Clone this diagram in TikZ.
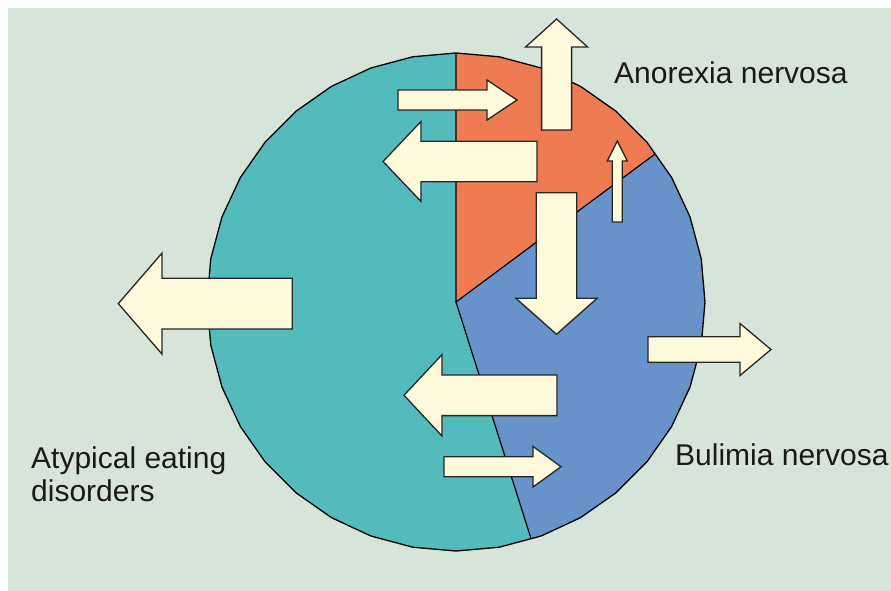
\documentclass[tikz,border=0pt]{standalone}
\usepackage{fontspec}
\setmainfont{Liberation Sans}
\definecolor{bgc}{HTML}{D6E4D9}
\definecolor{tealc}{HTML}{53BBBB}
\definecolor{orangec}{HTML}{EE7B52}
\definecolor{bluec}{HTML}{6892CA}
\definecolor{creamc}{HTML}{FFFADC}
\definecolor{textc}{HTML}{1A1A1A}
\newcommand{\hblock}[6]{% tail, base, tip, centre y, shaft half, head half
  \draw[blockarrow] (#1,{#4-#5}) -- (#2,{#4-#5}) -- (#2,{#4-#6}) -- (#3,#4) -- (#2,{#4+#6}) -- (#2,{#4+#5}) -- (#1,{#4+#5}) -- cycle;}
\newcommand{\vblock}[6]{% tail, base, tip, centre x, shaft half, head half
  \draw[blockarrow] ({#4-#5},#1) -- ({#4-#5},#2) -- ({#4-#6},#2) -- (#4,#3) -- ({#4+#6},#2) -- ({#4+#5},#2) -- ({#4+#5},#1) -- cycle;}
\tikzset{
  blockarrow/.style={draw=black!85, fill=creamc, line width=1.3pt, line join=miter},
  label/.style={anchor=base west, inner sep=0pt, text=textc, font=\fontsize{30}{33}\selectfont},
}
\begin{document}
\begin{tikzpicture}[x=1pt,y=-1pt]
\useasboundingbox (0,0) rectangle (891,591);
\fill[white] (0,0) rectangle (891,591);
\fill[bgc] (8,8) rectangle (891,591);
% pie
\fill[tealc] plot[samples at={90,100,...,440}, variable=\a] ({456+249*cos(\a)},{302-249*sin(\a)}) -- cycle;
\begin{scope}
  \clip plot[samples at={90,100,...,440}, variable=\a] ({456+249*cos(\a)},{302-249*sin(\a)}) -- cycle;
  \coordinate (c) at (456,302);
  \fill[orangec] (c) -- (456,-300) -- (1053,-142) -- cycle;
  \fill[bluec] (c) -- (1053,-142) -- (1400,400) -- (683,1018) -- cycle;
  \draw[line width=1.2pt, line join=miter] (456,-10) -- (c) -- (1053,-142);
  \draw[line width=1.2pt] (c) -- (683,1018);
\end{scope}
\draw[line width=1.3pt, line join=round] plot[samples at={90,100,...,440}, variable=\a] ({456+249*cos(\a)},{302-249*sin(\a)}) -- cycle;
% arrows
\vblock{130}{47}{19}{556.6}{15}{31}
\hblock{398}{487}{517}{100}{10}{20}
\hblock{537}{421}{383}{161.5}{20.3}{40}
\vblock{222}{161}{141}{617.3}{5}{10}
\vblock{192.7}{298.3}{334.3}{556.5}{20.3}{40.6}
\hblock{292.3}{162}{118.3}{303.6}{25.4}{50.5}
\hblock{648}{740}{771}{349.5}{12.8}{26}
\hblock{557}{442}{404}{395.3}{20.3}{40.7}
\hblock{444}{533}{561}{466.7}{10}{20.3}
% labels
\node[label] (an) at (614,83.3) {Anorexia nervosa};
\node[label] (bn) at (675,465.7) {Bulimia nervosa};
\node[label] (at) at (31,468) {Atypical eating};
\node[label] (di) at (31,501.5) {disorders};
\end{tikzpicture}
\end{document}
